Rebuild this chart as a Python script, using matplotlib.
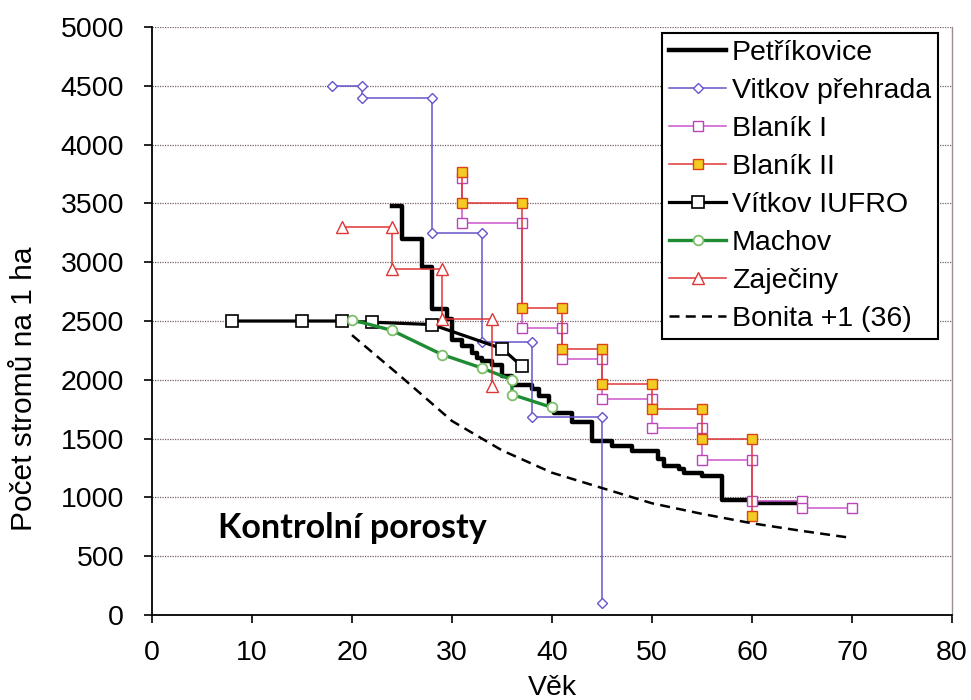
import matplotlib
matplotlib.use("Agg")
import matplotlib.pyplot as plt

plt.rcParams['font.family'] = ['Liberation Sans', 'DejaVu Sans']

# Petříkovice - schodovitá křivka (věk, počet stromů od daného věku)
petr_vek = [24, 25, 27, 28, 29.5, 30, 31, 32, 32.5, 33, 34, 35, 36, 38, 38.7, 39.7,
            40.2, 42, 44, 46, 48, 50.6, 51.2, 52.7, 53.2, 55, 57, 60, 65]
petr_n = [3480, 3200, 2960, 2600, 2520, 2340, 2285, 2230, 2185, 2160, 2130, 2030, 1960,
          1920, 1860, 1790, 1720, 1640, 1480, 1440, 1395, 1325, 1265, 1240, 1210, 1185,
          975, 950, 950]

vpr_vek = [18, 21, 21, 28, 28, 33, 33, 38, 38, 45, 45]
vpr_n = [4500, 4500, 4400, 4400, 3250, 3250, 2320, 2320, 1680, 1680, 100]

bl1_vek = [31, 31, 37, 37, 41, 41, 45, 45, 50, 50, 55, 55, 60, 60, 65, 65, 70]
bl1_n = [3720, 3330, 3330, 2440, 2440, 2180, 2180, 1840, 1840, 1590, 1590, 1320, 1320,
         970, 970, 910, 910]

bl2_vek = [31, 31, 37, 37, 41, 41, 45, 45, 50, 50, 55, 55, 60, 60]
bl2_n = [3770, 3500, 3500, 2610, 2610, 2265, 2265, 1965, 1965, 1750, 1750, 1495, 1495, 840]

iufro_vek = [8, 15, 19, 22, 28, 35, 37]
iufro_n = [2500, 2500, 2500, 2490, 2470, 2265, 2115]

mach_vek = [20, 24, 29, 33, 36, 36, 40]
mach_n = [2510, 2420, 2215, 2100, 2000, 1875, 1765]

zaj_vek = [19, 24, 24, 29, 29, 34, 34]
zaj_n = [3300, 3300, 2940, 2940, 2520, 2520, 1950]

bon_vek = [20, 25, 30, 35, 40, 45, 50, 55, 60, 65, 70]
bon_n = [2380, 2020, 1650, 1400, 1210, 1080, 950, 860, 780, 715, 655]

fig = plt.figure(figsize=(9.71, 7.0), dpi=100)
ax = fig.add_axes([0.1565, 0.1214, 0.824, 0.84])

ax.plot(petr_vek, petr_n, color='black', lw=3.2, drawstyle='steps-post', label='Petříkovice')
ax.plot(vpr_vek, vpr_n, color='#6655CC', lw=1.1, marker='D', ms=5, mfc='white',
        mec='#6655CC', label='Vitkov přehrada')
ax.plot(bl1_vek, bl1_n, color='#CC55CC', lw=1.1, marker='s', ms=7, mfc='white',
        mec='#BB44BB', label='Blaník I')
ax.plot(bl2_vek, bl2_n, color='#E03535', lw=1.1, marker='s', ms=7, mfc='#F2CC22',
        mec='#E04015', label='Blaník II')
ax.plot(iufro_vek, iufro_n, color='black', lw=2.3, marker='s', ms=8, mfc='white',
        mec='black', mew=1.2, label='Vítkov IUFRO')
ax.plot(mach_vek, mach_n, color='#1E8C32', lw=2.4, marker='o', ms=7, mfc='white',
        mec='#7FBF6A', mew=1.3, label='Machov')
ax.plot(zaj_vek, zaj_n, color='#E03535', lw=1.1, marker='^', ms=8, mfc='white',
        mec='#E03535', label='Zaječiny')
ax.plot(bon_vek, bon_n, color='black', lw=1.8, ls=(0, (4, 2.5)), label='Bonita +1 (36)')

ax.set_xlim(0, 80)
ax.set_ylim(0, 5000)
ax.set_xticks(range(0, 81, 10))
ax.set_yticks(range(0, 5001, 500))
ax.tick_params(labelsize=20.5, direction='out', length=6, width=1.2, colors='black')
ax.tick_params(axis='y', pad=14)
ax.tick_params(axis='x', pad=12)
ax.yaxis.grid(True, color='#7a6060', ls=(0, (1, 1)), lw=0.9)
ax.set_axisbelow(True)
ax.spines['right'].set_color('#9a9090')
ax.spines['right'].set_linewidth(1.0)
ax.spines['top'].set_visible(False)
for s in ['left', 'bottom']:
    ax.spines[s].set_linewidth(1.3)

ax.set_xlabel('Věk', fontsize=20.5)
ax.xaxis.set_label_coords(0.5, -0.102)
ax.set_ylabel('Počet stromů na 1 ha', fontsize=21.5)
ax.yaxis.set_label_coords(-0.142, 0.384)

ax.text(6.6, 740, 'Kontrolní porosty', fontsize=24.5, fontweight='bold',
        family=['Lato', 'DejaVu Sans'], va='center')

leg = ax.legend(loc='upper right', bbox_to_anchor=(0.9825, 0.99), fontsize=20.5,
                frameon=True, fancybox=False, edgecolor='black', framealpha=1,
                handlelength=2.0, handletextpad=0.2, labelspacing=0.42,
                borderpad=0.25, borderaxespad=0)
leg.get_frame().set_linewidth(1.5)

fig.savefig('out.png', dpi=100)
